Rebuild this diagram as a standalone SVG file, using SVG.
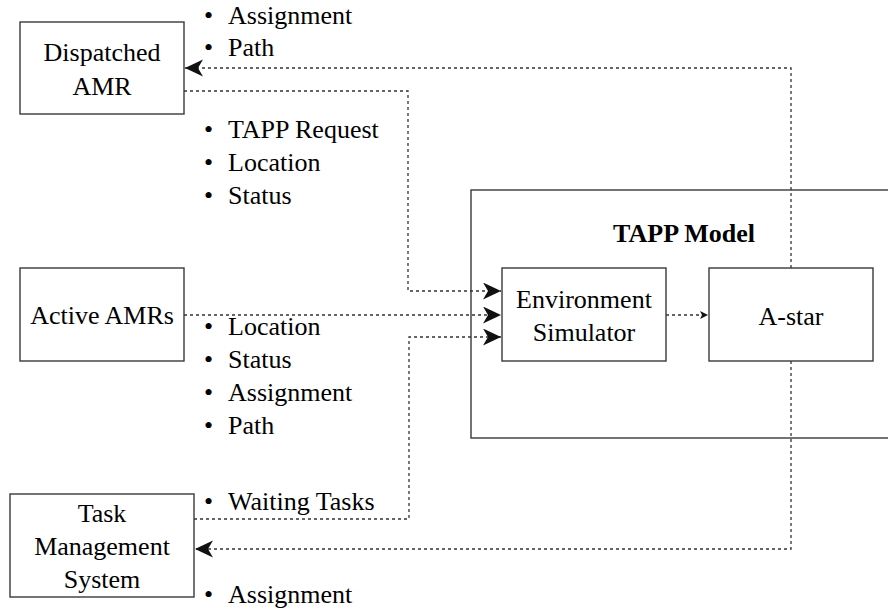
<svg xmlns="http://www.w3.org/2000/svg" width="888" height="612" viewBox="0 0 888 612">
<defs>
<marker id="big" markerUnits="userSpaceOnUse" markerWidth="20" markerHeight="18" refX="18" refY="8.5" orient="auto">
<path d="M0,0 L18,8.5 L0,17 L5,8.5 z" fill="#111"/>
</marker>
<marker id="small" markerUnits="userSpaceOnUse" markerWidth="10" markerHeight="10" refX="8" refY="4" orient="auto">
<path d="M0,0 L8,4 L0,8 L2,4 z" fill="#111"/>
</marker>
</defs>
<rect width="888" height="612" fill="#fff"/>

<g id="tapp-model">
<rect x="471" y="190" width="430" height="248" fill="#fff" stroke="#3a3a3a" stroke-width="1.4"/>
<text x="684" y="242" text-anchor="middle" font-weight="bold" font-family="Liberation Serif" font-size="26">TAPP Model</text>
</g>

<g id="connectors" fill="none" stroke="#333" stroke-width="1.3" stroke-dasharray="3 3">
<path d="M791,268 V68 H185" marker-end="url(#big)"/>
<path d="M184,91 H408 V291 H501" marker-end="url(#big)"/>
<path d="M184,315 H501" marker-end="url(#big)"/>
<path d="M194,519 H409 V337 H501" marker-end="url(#big)"/>
<path d="M666,315 H708" marker-end="url(#small)"/>
<path d="M791,361 V549 H195" marker-end="url(#big)"/>
</g>

<g id="dispatched-amr">
<rect x="20" y="22" width="164" height="92" fill="#fff" stroke="#3a3a3a" stroke-width="1.4"/>
<text x="102" y="61" text-anchor="middle" font-family="Liberation Serif" font-size="26">Dispatched</text>
<text x="102" y="95" text-anchor="middle" font-family="Liberation Serif" font-size="26">AMR</text>
</g>
<g id="active-amrs">
<rect x="20" y="268" width="164" height="93" fill="#fff" stroke="#3a3a3a" stroke-width="1.4"/>
<text x="102" y="324" text-anchor="middle" font-family="Liberation Serif" font-size="26">Active AMRs</text>
</g>
<g id="task-management-system">
<rect x="10" y="494" width="184" height="103" fill="#fff" stroke="#3a3a3a" stroke-width="1.4"/>
<text x="102" y="522" text-anchor="middle" font-family="Liberation Serif" font-size="26">Task</text>
<text x="102" y="555" text-anchor="middle" font-family="Liberation Serif" font-size="26">Management</text>
<text x="102" y="588" text-anchor="middle" font-family="Liberation Serif" font-size="26">System</text>
</g>
<g id="environment-simulator">
<rect x="502" y="268" width="164" height="93" fill="#fff" stroke="#3a3a3a" stroke-width="1.4"/>
<text x="584" y="308" text-anchor="middle" font-family="Liberation Serif" font-size="26">Environment</text>
<text x="584" y="341" text-anchor="middle" font-family="Liberation Serif" font-size="26">Simulator</text>
</g>
<g id="a-star">
<rect x="709" y="268" width="164" height="93" fill="#fff" stroke="#3a3a3a" stroke-width="1.4"/>
<text x="791" y="325" text-anchor="middle" font-family="Liberation Serif" font-size="26">A-star</text>
</g>

<g id="labels">
<text x="204" y="24" font-family="Liberation Serif" font-size="26">•</text><text x="228" y="24" font-family="Liberation Serif" font-size="26">Assignment</text>
<text x="204" y="56" font-family="Liberation Serif" font-size="26">•</text><text x="228" y="56" font-family="Liberation Serif" font-size="26">Path</text>
<text x="204" y="138" font-family="Liberation Serif" font-size="26">•</text><text x="228" y="138" font-family="Liberation Serif" font-size="26">TAPP Request</text>
<text x="204" y="171" font-family="Liberation Serif" font-size="26">•</text><text x="228" y="171" font-family="Liberation Serif" font-size="26">Location</text>
<text x="204" y="204" font-family="Liberation Serif" font-size="26">•</text><text x="228" y="204" font-family="Liberation Serif" font-size="26">Status</text>
<text x="204" y="335" font-family="Liberation Serif" font-size="26">•</text><text x="228" y="335" font-family="Liberation Serif" font-size="26">Location</text>
<text x="204" y="368" font-family="Liberation Serif" font-size="26">•</text><text x="228" y="368" font-family="Liberation Serif" font-size="26">Status</text>
<text x="204" y="401" font-family="Liberation Serif" font-size="26">•</text><text x="228" y="401" font-family="Liberation Serif" font-size="26">Assignment</text>
<text x="204" y="434" font-family="Liberation Serif" font-size="26">•</text><text x="228" y="434" font-family="Liberation Serif" font-size="26">Path</text>
<text x="204" y="510" font-family="Liberation Serif" font-size="26">•</text><text x="228" y="510" font-family="Liberation Serif" font-size="26">Waiting Tasks</text>
<text x="204" y="603" font-family="Liberation Serif" font-size="26">•</text><text x="228" y="603" font-family="Liberation Serif" font-size="26">Assignment</text>
</g>
</svg>
